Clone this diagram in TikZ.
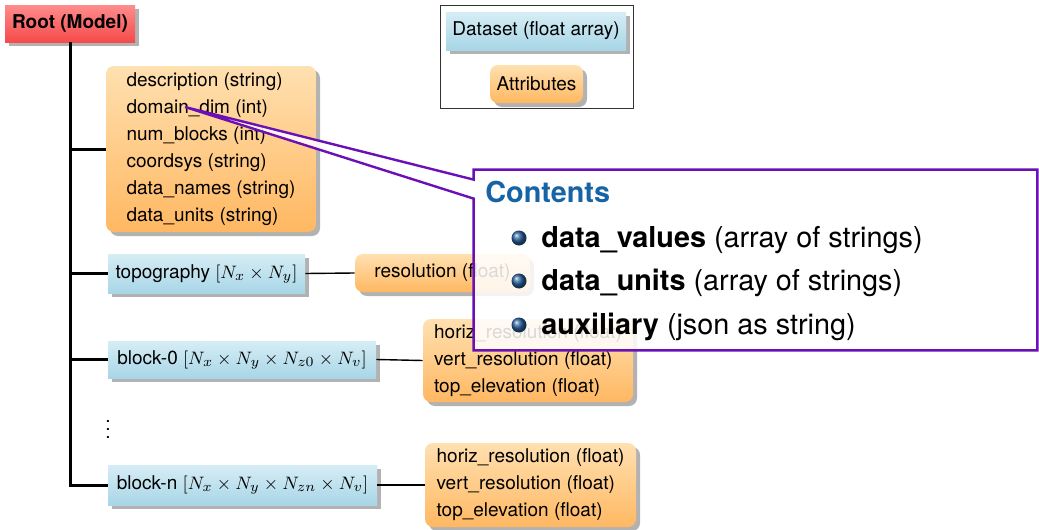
\documentclass[tikz,border=0pt]{standalone}
\usepackage[no-math]{fontspec}
\setmainfont{TeX Gyre Heros}
\usetikzlibrary{shadows,calc}
\definecolor{dstop}{RGB}{214,237,245}
\definecolor{dsbot}{RGB}{168,214,231}
\definecolor{attop}{RGB}{255,224,176}
\definecolor{atbot}{RGB}{255,184,98}
\definecolor{rttop}{RGB}{255,140,140}
\definecolor{rtbot}{RGB}{245,75,75}
\definecolor{copurple}{RGB}{108,16,182}
\definecolor{cotitle}{RGB}{22,100,165}
\definecolor{ballc}{RGB}{40,95,155}
\tikzset{
  txt/.style={font=\fontsize{9.5}{13.5}\selectfont, text=black, inner sep=0pt},
  shad/.style={drop shadow={shadow xshift=2pt, shadow yshift=-2pt, opacity=0.3, fill=black}},
  rootbox/.style={txt, font=\fontsize{9.5}{13.5}\selectfont\bfseries, shad, top color=rttop, bottom color=rtbot},
  dsbox/.style={txt, shad, top color=dstop, bottom color=dsbot, align=center},
  atbox/.style={txt, shad, rounded corners=4pt, top color=attop, bottom color=atbot, align=left},
  trunk/.style={line width=1.5pt, black},
  thin/.style={line width=0.7pt, black},
  cobox/.style={draw=copurple, line width=1.2pt, fill=white, fill opacity=0.85},
  coitem/.style={font=\fontsize{14.4}{17}\selectfont, text=black, inner sep=0pt, anchor=base west},
  ball/.style={circle, inner sep=0pt, minimum size=7.5pt, shade, ball color=ballc}
}
\begin{document}
\begin{tikzpicture}[x=0.5pt,y=-0.5pt]
\useasboundingbox (0,0) rectangle (1039,530);

% legend
\draw[line width=0.5pt, black!80] (440,5) rectangle (633,108);
\node[dsbox, minimum width=90pt, minimum height=19pt] (legds) at (536,31) {Dataset (float array)};
\node[atbox, align=center, minimum width=46.5pt, minimum height=19pt] (legat) at (536.5,84) {Attributes};

% nodes
\node[rootbox, minimum width=65pt, minimum height=18.5pt] (root) at (70,23.5) {Root (Model)};
\node[atbox, minimum width=105pt, minimum height=83pt] (attr) at (211,149)
  {description (string)\\domain\_dim (int)\\num\_blocks (int)\\coordsys (string)\\data\_names (string)\\data\_units (string)};
\node[dsbox, minimum width=98.5pt, minimum height=19.5pt] (topo) at (206.5,273.5) {topography $[N_x \times N_y]$};
\node[atbox, align=center, minimum width=87.5pt, minimum height=19pt] (res) at (442.5,273) {resolution (float)};
\node[dsbox, minimum width=134pt, minimum height=18.5pt] (blk0) at (242,359.5) {block-0 $[N_x \times N_y \times N_{z0} \times N_v]$};
\node[atbox, minimum width=105pt, minimum height=41.5pt] (hr0) at (528,360.5)
  {horiz\_resolution (float)\\vert\_resolution (float)\\top\_elevation (float)};
\node[txt] (dots) at (108,424) {$\vdots$};
\node[dsbox, minimum width=134.5pt, minimum height=20pt] (blkn) at (242.5,485) {block-n $[N_x \times N_y \times N_{zn} \times N_v]$};
\node[atbox, minimum width=105.5pt, minimum height=42pt] (hrn) at (530.5,485)
  {horiz\_resolution (float)\\vert\_resolution (float)\\top\_elevation (float)};

% tree connectors
\draw[trunk] (root.south) |- (blkn.west);
\draw[trunk] (root.south) |- (attr.west);
\draw[trunk] (root.south) |- (topo.west);
\draw[trunk] (root.south) |- (blk0.west);
\draw[thin] (topo.east) -- (res.west);
\draw[thin] (blk0.east) -- (hr0.west);
\draw[thin] (blkn.east) -- (hrn.west);

% callout
\coordinate (tip) at (185,107);
\node[minimum width=281.5pt, minimum height=90pt, inner sep=0pt] (co) at (755.5,260) {};
\path[cobox] (co.north west) -- (co.north east) -- (co.south east) -- (co.south west)
  -- ($(co.north west)+(0,29)$) -- (tip) -- ($(co.north west)+(0,10)$) -- cycle;
\node[coitem, font=\fontsize{14.4}{17}\selectfont\bfseries, text=cotitle] (cot) at (485,202) {Contents};
\node[ball] (b1) at (519,238) {};
\node[ball] (b2) at (519,281) {};
\node[ball] (b3) at (519,325) {};
\node[coitem] (i1) at (541,247) {\textbf{data\_values} (array of strings)};
\node[coitem] (i2) at (541,290) {\textbf{data\_units} (array of strings)};
\node[coitem] (i3) at (541,334) {\textbf{auxiliary} (json as string)};
\end{tikzpicture}
\end{document}
